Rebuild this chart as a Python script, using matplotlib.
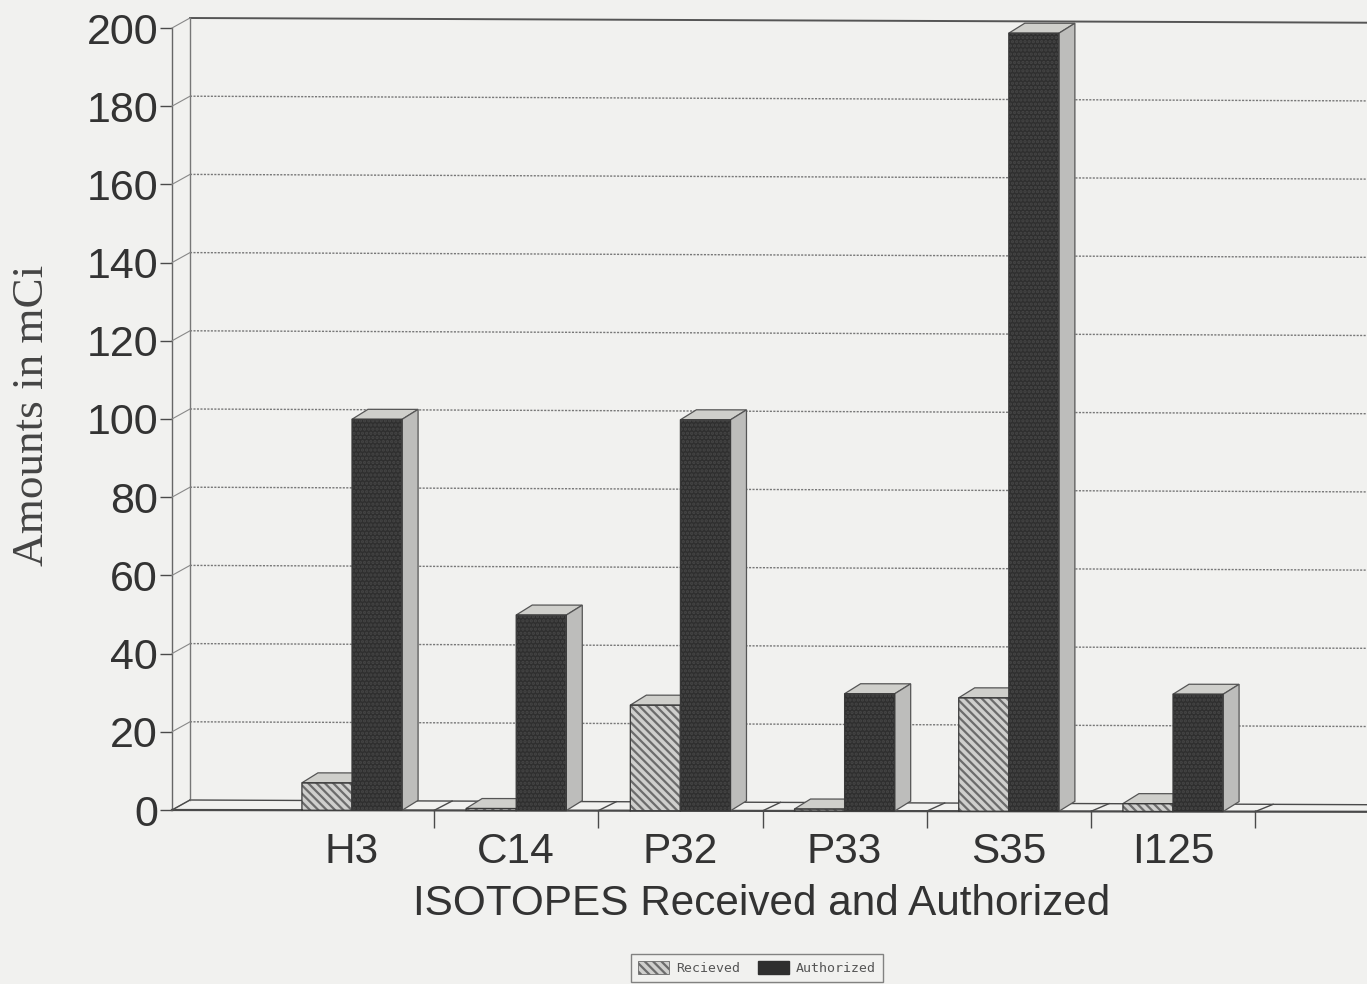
import matplotlib
matplotlib.use("Agg")
import matplotlib.pyplot as plt
from matplotlib.patches import Patch, Polygon
from matplotlib.transforms import Affine2D

isotopes = ["H3", "C14", "P32", "P33", "S35", "I125"]
received = [7, 0.5, 27, 0.5, 29, 2]
authorized = [100, 50, 100, 30, 199, 30]
y_ticks = [0, 20, 40, 60, 80, 100, 120, 140, 160, 180, 200]

PAPER = "#f1f1ef"
INK = "#4a4a4a"
W, H = 1367, 984
LEFT, RIGHT, BOTTOM, TOP = 172, 1367, H - 810, H - 28
BAR_W = 0.305

plt.rcParams["font.family"] = ["Liberation Sans", "DejaVu Sans"]
plt.rcParams["hatch.linewidth"] = 1.6

fig = plt.figure(figsize=(W / 100, H / 100), dpi=100, facecolor=PAPER)
ax = fig.add_axes([LEFT / W, BOTTOM / H, (RIGHT - LEFT) / W, (TOP - BOTTOM) / H], facecolor=PAPER)
ax.set_xlim((LEFT - 352) / 164.2, (RIGHT - 352) / 164.2)
ax.set_ylim(0, 200)


def tilted(amount):
    # the scan is a little rotated, and more so at the top of the page
    return Affine2D().translate(-LEFT, 0).skew(0, -amount).translate(LEFT, 0)


front = ax.transData + tilted(0.0015)
back = ax.transData + tilted(0.004) + Affine2D().translate(18, 10)

for side in ("top", "right", "bottom"):
    ax.spines[side].set_visible(False)
ax.spines["left"].set_color("#666666")
ax.spines["left"].set_linewidth(1.0)

x0, x1 = ax.get_xlim()
boundaries = [i + 0.5 for i in range(len(isotopes))]

# back wall and floor
for v in y_ticks[1:-1]:
    ax.plot([x0, x1], [v, v], color="#777777", lw=1.0, ls=(0, (1.5, 1)), transform=back, clip_on=False, zorder=1)
ax.plot([x0, x1], [200, 200], color="#555555", lw=1.4, transform=back, clip_on=False, zorder=1)
ax.plot([x0, x1], [0, 0], color=INK, lw=1.0, transform=back, clip_on=False, zorder=1)
ax.plot([x0, x0], [0, 200], color="#777777", lw=1.0, transform=back, clip_on=False, zorder=1)
ax.plot([x0, x1], [0, 0], color=INK, lw=1.6, transform=front, clip_on=False, zorder=4)

# slanted joins from the front axes to the back wall
for v in y_ticks:
    p0 = front.transform((x0, v))
    p1 = back.transform((x0, v))
    fig.add_artist(plt.Line2D([p0[0] / W, p1[0] / W], [p0[1] / H, p1[1] / H], color="#888888", lw=0.8, zorder=1))
for b in boundaries + [x0]:
    p0 = front.transform((b, 0))
    p1 = back.transform((b, 0))
    fig.add_artist(plt.Line2D([p0[0] / W, p1[0] / W], [p0[1] / H, p1[1] / H], color=INK, lw=1.0, zorder=1))

# pseudo 3d bars, offsets are in data units
dx = 16 / 164.2
dy = 10 / 3.915


def draw_bar(x, value, front_color, hatch, hatch_color, z):
    ax.bar(x, value, BAR_W, align="edge", facecolor=front_color, edgecolor=hatch_color, hatch=hatch,
           lw=0, transform=front, zorder=z, clip_on=False)
    ax.plot([x, x + BAR_W, x + BAR_W, x, x], [0, 0, value, value, 0], color="#3a3a3a", lw=0.9,
            transform=front, zorder=z + 0.1, clip_on=False)
    top = [(x, value), (x + BAR_W, value), (x + BAR_W + dx, value + dy), (x + dx, value + dy)]
    side = [(x + BAR_W, 0), (x + BAR_W + dx, dy), (x + BAR_W + dx, value + dy), (x + BAR_W, value)]
    ax.add_patch(Polygon(top, closed=True, facecolor="#cfcfcb", edgecolor="#555555", lw=0.9,
                         transform=front, zorder=z, clip_on=False))
    ax.add_patch(Polygon(side, closed=True, facecolor="#bdbdbb", edgecolor="#555555", lw=0.9,
                         transform=front, zorder=z, clip_on=False))


for i, (r, a) in enumerate(zip(received, authorized)):
    draw_bar(i - BAR_W, r, "#cfcfcd", "\\\\\\\\", "#6c6c6c", 5 + i * 2)
    draw_bar(i, a, "#2f2f2f", "....", "#464646", 6 + i * 2)

ax.set_yticks(y_ticks)
ax.tick_params(axis="y", length=9, width=1.0, color=INK, labelsize=31, labelcolor="#333333", pad=1)
ax.set_xticks(boundaries)
ax.set_xticklabels([])
ax.set_xticks(range(len(isotopes)), isotopes, minor=True)
ax.tick_params(axis="x", which="major", length=13, width=1.0, color=INK)
ax.tick_params(axis="x", which="minor", length=0, labelsize=30.5, labelcolor="#333333", pad=16)
ax.set_xlabel("ISOTOPES Received and Authorized", fontsize=30.4, color="#333333")
ax.xaxis.set_label_coords((762 - LEFT) / (RIGHT - LEFT), -0.094)
ax.set_ylabel("Amounts in mCi", fontsize=32.5, color="#444444", family="Liberation Serif")
ax.yaxis.set_label_coords((52 - LEFT) / (RIGHT - LEFT), (H - 415 - BOTTOM) / (TOP - BOTTOM))

handles = [
    Patch(facecolor="#cfcfcd", edgecolor="#6c6c6c", hatch="\\\\\\\\", lw=0.6, label="Recieved"),
    Patch(facecolor="#2f2f2f", edgecolor="#2f2f2f", label="Authorized"),
]
leg = fig.legend(handles=handles, ncol=2, loc="center", bbox_to_anchor=(757 / W, (H - 968) / H),
                 prop={"family": "DejaVu Sans Mono", "size": 9.5}, frameon=True, fancybox=False,
                 facecolor=PAPER, edgecolor="#666666", handlelength=2.3, handleheight=1.2, columnspacing=1.4,
                 handletextpad=0.55, borderpad=0.55, borderaxespad=0)
for text in leg.get_texts():
    text.set_color("#555555")

fig.savefig("out.png", dpi=100, facecolor=PAPER)
